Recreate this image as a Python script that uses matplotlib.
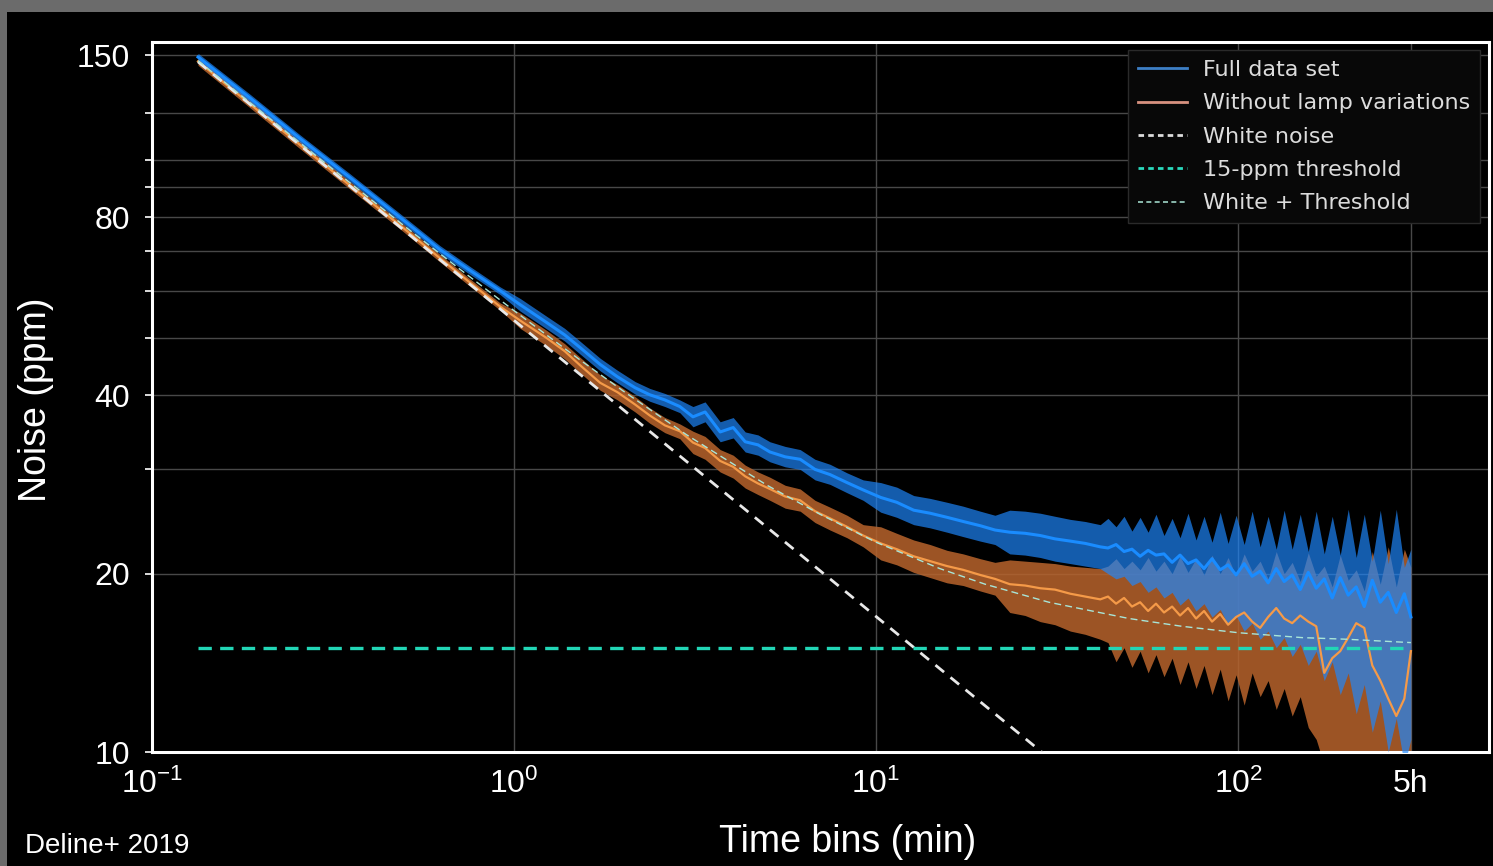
import matplotlib
matplotlib.use("Agg")
import matplotlib.pyplot as plt
from matplotlib.patches import Rectangle
from matplotlib.lines import Line2D
from matplotlib.ticker import FixedLocator, FixedFormatter, NullLocator, NullFormatter

plt.rcParams['font.family'] = ['Liberation Sans', 'DejaVu Sans']
plt.rcParams['mathtext.fontset'] = 'custom'
plt.rcParams['mathtext.rm'] = 'Liberation Sans'
plt.rcParams['mathtext.it'] = 'Liberation Sans:italic'
plt.rcParams['mathtext.bf'] = 'Liberation Sans:bold'

# time bins (min)
t_min = [0.134, 0.187, 0.256, 0.352, 0.484, 0.624, 0.756, 0.915, 1.04, 1.23,
         1.38, 1.52, 1.73, 1.93, 2.16, 2.37, 2.61, 2.87, 3.12, 3.37,
         3.71, 4.03, 4.35, 4.72, 5.09, 5.61, 6.17, 6.78, 7.46, 8.31,
         9.21, 10.3, 11.4, 12.7, 14.1, 15.7, 17.4, 19.4, 21.3, 23.4,
         25.8, 28.4, 31.2, 34.4, 37.8, 41.6, 43.7, 46.0, 48.4, 50.9,
         53.6, 56.4, 59.3, 62.4, 65.7, 69.1, 72.7, 76.5, 80.5, 84.7,
         89.2, 93.8, 98.7, 103.9, 109.3, 115.0, 121.0, 127.4, 134.0, 141.0,
         148.4, 156.2, 164.3, 172.9, 181.9, 191.4, 201.4, 211.9, 223.0, 234.7,
         246.9, 259.8, 273.4, 287.7, 300.0]

# full data set (ppm)
blue_mid = [149.0, 126.9, 108.6, 93.3, 79.9, 70.5, 65.0, 60.1, 56.9, 53.1,
            50.6, 48.2, 45.1, 43.0, 41.2, 40.1, 39.3, 38.3, 36.8, 37.5,
            34.7, 35.3, 33.4, 33.0, 32.1, 31.5, 31.2, 30.0, 29.4, 28.5,
            27.7, 26.9, 26.4, 25.6, 25.3, 24.9, 24.5, 24.1, 23.7, 23.5,
            23.4, 23.2, 22.9, 22.7, 22.5, 22.2, 22.1, 22.4, 21.8, 22.0,
            21.4, 21.9, 21.5, 21.6, 20.9, 21.5, 20.8, 21.1, 20.4, 21.2,
            20.3, 20.7, 19.9, 20.8, 19.8, 20.2, 19.3, 20.4, 19.4, 19.9,
            18.8, 20.1, 18.9, 19.6, 18.2, 19.7, 18.4, 19.0, 17.6, 19.5,
            17.9, 18.6, 17.2, 18.5, 16.9]
blue_lo = [146.8, 125.0, 107.0, 91.9, 78.7, 69.4, 64.0, 59.2, 55.5, 51.8,
           49.4, 47.0, 44.0, 42.0, 40.2, 39.1, 38.3, 37.4, 35.4, 36.1,
           33.4, 33.9, 32.1, 31.7, 30.9, 30.3, 30.0, 28.8, 28.3, 27.4,
           26.6, 25.4, 24.9, 24.2, 23.9, 23.5, 23.1, 22.7, 22.4, 21.6,
           21.5, 21.3, 21.0, 20.8, 20.6, 20.4, 20.0, 19.6, 19.8, 19.1,
           19.4, 18.6, 19.0, 18.2, 18.6, 17.7, 18.2, 17.3, 17.8, 16.9,
           17.4, 16.4, 17.0, 16.0, 16.5, 15.5, 16.0, 15.0, 15.6, 14.5,
           15.2, 14.0, 14.8, 13.2, 14.2, 12.5, 13.6, 11.6, 13.0, 10.8,
           12.2, 10.0, 11.4, 9.5, 10.5]
blue_hi = [151.2, 128.8, 110.2, 94.7, 81.1, 71.6, 66.0, 61.0, 58.3, 54.4,
           51.9, 49.4, 46.2, 44.1, 42.2, 41.1, 40.3, 39.3, 38.3, 39.0,
           36.1, 36.7, 34.7, 34.3, 33.4, 32.8, 32.4, 31.2, 30.6, 29.6,
           28.8, 28.5, 28.0, 27.1, 26.8, 26.4, 26.0, 25.5, 25.1, 25.6,
           25.5, 25.3, 25.0, 24.7, 24.5, 24.2, 24.8, 24.0, 25.0, 23.6,
           24.9, 23.5, 25.2, 23.2, 24.8, 23.0, 25.3, 22.8, 25.0, 22.6,
           25.4, 22.5, 25.1, 22.4, 25.5, 22.2, 25.0, 22.0, 25.6, 22.0,
           25.2, 21.8, 25.5, 21.6, 25.0, 21.5, 25.7, 21.3, 25.2, 21.0,
           25.6, 20.8, 25.7, 20.5, 22.0]

# without lamp variations (ppm)
orange_mid = [146.5, 124.0, 106.0, 90.5, 77.5, 68.2, 62.0, 56.5, 53.5, 50.0,
              47.5, 45.0, 42.0, 40.5, 38.6, 37.0, 35.6, 34.8, 33.3, 32.6,
              31.0, 30.3, 29.2, 28.4, 27.8, 27.0, 26.6, 25.5, 24.8, 24.0,
              23.2, 22.5, 22.0, 21.4, 21.0, 20.6, 20.3, 19.9, 19.6, 19.2,
              19.1, 18.9, 18.8, 18.5, 18.3, 18.1, 18.3, 17.8, 18.2, 17.6,
              17.9, 17.3, 17.8, 17.2, 17.6, 17.0, 17.5, 16.8, 17.3, 16.6,
              17.1, 16.4, 16.9, 17.2, 16.6, 16.2, 16.9, 17.5, 16.8, 16.5,
              17.0, 16.6, 16.3, 13.6, 14.4, 14.8, 15.6, 16.5, 16.2, 14.0,
              13.2, 12.3, 11.5, 12.3, 14.8]
orange_lo = [144.3, 122.2, 104.4, 89.2, 76.4, 67.2, 61.1, 55.7, 51.9, 48.5,
             46.1, 43.7, 40.8, 39.3, 37.5, 35.9, 34.6, 33.8, 31.9, 31.2,
             29.7, 29.0, 27.9, 27.2, 26.6, 25.8, 25.5, 24.4, 23.7, 23.0,
             22.2, 21.1, 20.7, 20.1, 19.7, 19.3, 19.1, 18.7, 18.4, 17.2,
             17.0, 16.6, 16.4, 16.0, 15.8, 15.5, 15.3, 14.2, 15.0, 13.9,
             14.8, 13.6, 14.6, 13.4, 14.4, 13.0, 14.2, 12.8, 14.0, 12.5,
             13.8, 12.2, 13.5, 12.0, 13.6, 12.4, 13.2, 11.8, 12.8, 11.5,
             12.4, 11.0, 10.5, 9.5, 9.8, 9.2, 9.6, 9.0, 9.5, 9.0,
             9.4, 9.0, 9.2, 9.0, 9.0]
orange_hi = [148.7, 125.9, 107.6, 91.9, 78.7, 69.2, 62.9, 57.3, 55.1, 51.5,
             48.9, 46.4, 43.3, 41.7, 39.8, 38.1, 36.7, 35.8, 34.8, 34.1,
             32.4, 31.7, 30.5, 29.7, 29.1, 28.2, 27.8, 26.6, 25.9, 25.1,
             24.2, 24.0, 23.4, 22.8, 22.4, 21.9, 21.6, 21.2, 20.9, 21.1,
             21.0, 20.9, 20.8, 20.6, 20.5, 20.4, 20.6, 21.2, 20.4, 21.0,
             20.3, 21.3, 20.2, 21.0, 20.0, 21.4, 20.1, 21.2, 19.9, 21.5,
             20.0, 21.3, 19.8, 21.6, 20.2, 21.0, 19.6, 21.8, 20.0, 20.9,
             19.4, 21.7, 19.8, 20.6, 19.0, 21.5, 19.5, 20.3, 18.7, 21.8,
             19.2, 22.2, 19.0, 22.0, 20.5]

# models
white_t = [0.134, 300.0]
white_ppm = [146.3, 3.09]
thr_t = [0.134, 300.0]
thr_ppm = [15.0, 15.0]
wt_t = [0.134, 0.2, 0.3, 0.5, 0.7, 1, 1.5, 2, 3, 5, 7, 10, 15, 20, 30, 50, 70, 100, 150, 200, 300]
wt_ppm = [146.9, 120.6, 98.8, 77.1, 65.7, 55.6, 46.2, 40.7, 34.3, 28.2, 25.2,
          22.6, 20.4, 19.2, 17.9, 16.8, 16.3, 15.9, 15.6, 15.5, 15.3]

xtick_vals = [0.1, 1, 10, 100, 300]
xtick_labels = ['$10^{-1}$', '$10^{0}$', '$10^{1}$', '$10^{2}$', '5h']
ytick_vals = [10, 20, 40, 80, 150]
ytick_labels = ['10', '20', '40', '80', '150']
ygrid_minor = [30, 50, 60, 70, 90, 100, 120]

W, H = 1493, 866
fig = plt.figure(figsize=(W / 100, H / 100), dpi=100)
fig.patch.set_facecolor('#6b6b6b')
fig.patches.append(Rectangle((7 / W, 0), 1, 854 / H, transform=fig.transFigure,
                             facecolor='black', edgecolor='none', zorder=-5))

ax = fig.add_axes([152 / W, 1 - 752 / H, 1337 / W, 710 / H])
ax.set_facecolor('black')
ax.set_xscale('log')
ax.set_yscale('log')
ax.set_xlim(0.1, 493)
ax.set_ylim(10, 158)

ax.fill_between(t_min, orange_lo, orange_hi, color='#b8642c', alpha=0.85, lw=0, zorder=2)
ax.fill_between(t_min, blue_lo, blue_hi, color='#1e88ff', alpha=0.68, lw=0, zorder=3)
ax.plot(t_min, blue_mid, color='#1a8cff', lw=2.2, zorder=4)
ax.plot(t_min, orange_mid, color='#f59a48', lw=1.6, zorder=5)
ax.plot(white_t, white_ppm, color='#e8e8e8', ls=(0, (4, 3)), lw=2, zorder=6)
ax.plot(thr_t, thr_ppm, color='#22d6b6', ls=(0, (4, 2.5)), lw=2.4, zorder=6)
ax.plot(wt_t, wt_ppm, color='#a8e6d8', ls=(0, (5, 3)), lw=1, zorder=7)

ax.xaxis.set_major_locator(FixedLocator(xtick_vals))
ax.xaxis.set_major_formatter(FixedFormatter(xtick_labels))
ax.xaxis.set_minor_locator(NullLocator())
ax.yaxis.set_major_locator(FixedLocator(ytick_vals))
ax.yaxis.set_major_formatter(FixedFormatter(ytick_labels))
ax.yaxis.set_minor_locator(FixedLocator(ygrid_minor))
ax.yaxis.set_minor_formatter(NullFormatter())
ax.grid(True, which='both', color='#484848', lw=1, zorder=1)
ax.set_axisbelow(True)

ax.tick_params(axis='y', which='both', colors='white', length=5, width=1.2, pad=11, labelsize=23)
ax.tick_params(axis='x', which='both', length=0, pad=12, labelsize=23, labelcolor='white')
for s in ax.spines.values():
    s.set_color('white')
    s.set_linewidth(2.2)

handles = [Line2D([], [], color='#3d7fc6', lw=2),
           Line2D([], [], color='#d7917f', lw=2),
           Line2D([], [], color='#dcdcdc', lw=2, ls=(0, (2, 1.5))),
           Line2D([], [], color='#2ad8bc', lw=2, ls=(0, (2, 1.5))),
           Line2D([], [], color='#9fd6c8', lw=1.2, ls=(0, (3, 2)))]
labels = ['Full data set', 'Without lamp variations', 'White noise',
          '15-ppm threshold', 'White + Threshold']
leg = ax.legend(handles, labels, loc='upper right', bbox_to_anchor=(0.9933, 0.9887),
                borderaxespad=0, prop={'family': 'DejaVu Sans', 'size': 16},
                facecolor='#080808', edgecolor='#2a2a2a', framealpha=1, fancybox=False,
                labelcolor='#dcdcdc', handlelength=2.2, handletextpad=0.7,
                labelspacing=0.6, borderpad=0.45)
leg.set_zorder(10)

fig.text(36 / W, 1 - 400 / H, 'Noise (ppm)', rotation=90, ha='center', va='center',
         fontsize=27, color='white')
fig.text(848 / W, 1 - 842 / H, 'Time bins (min)', ha='center', va='center',
         fontsize=27, color='white')
fig.text(25 / W, 1 - 846 / H, 'Deline+ 2019', ha='left', va='center',
         fontsize=20, color='white')

fig.savefig('out.png', dpi=100, facecolor=fig.get_facecolor())
